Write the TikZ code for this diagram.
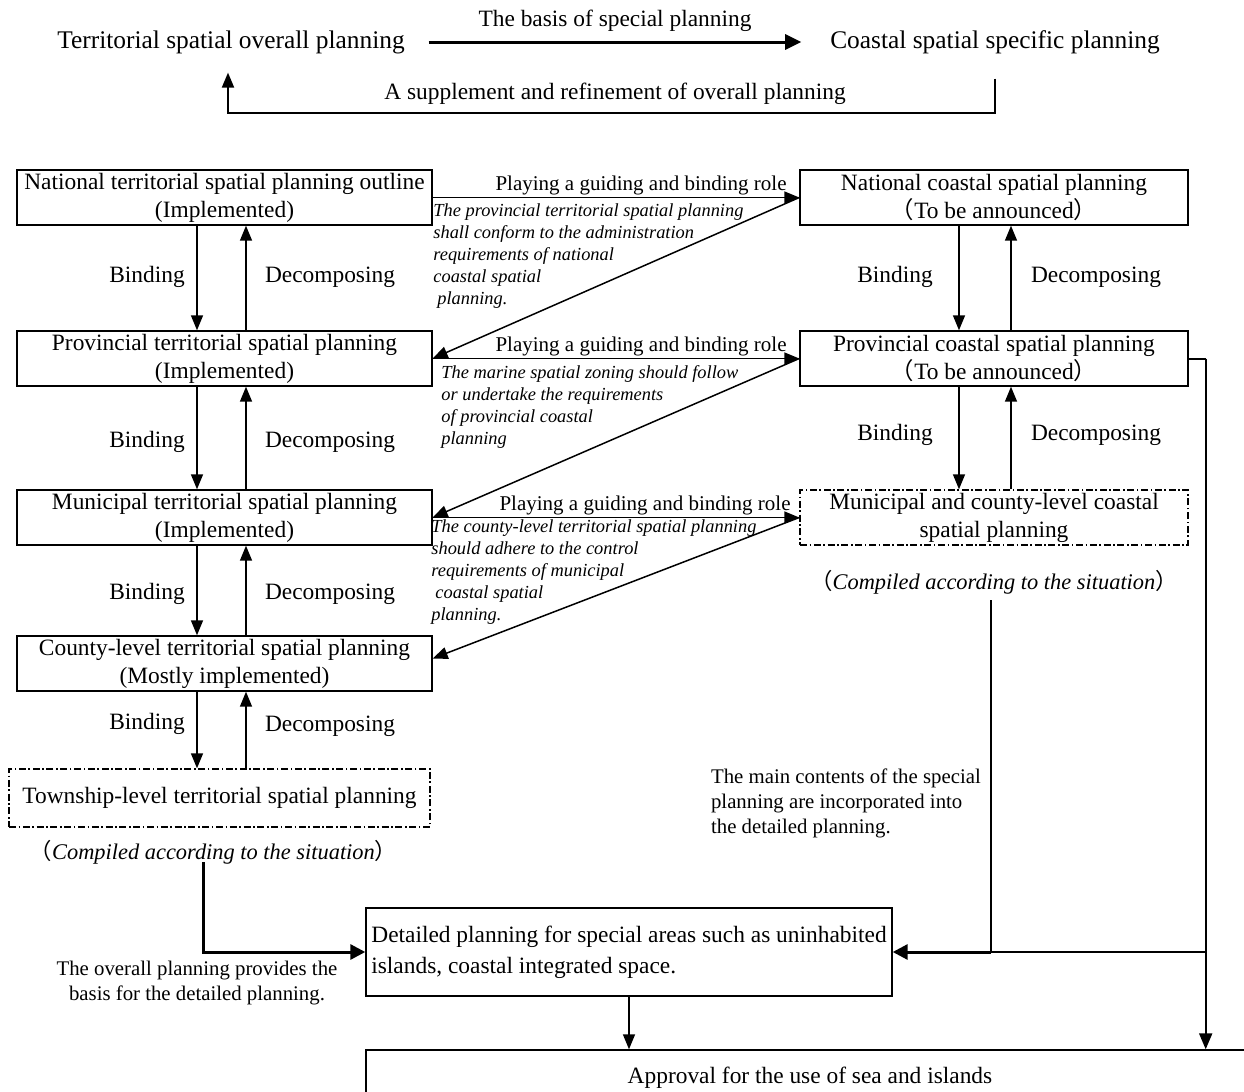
\documentclass[tikz,border=0pt]{standalone}
\usepackage{fontspec}
\setmainfont{Liberation Serif}
\newfontfamily\cjk{Noto Sans CJK SC}
\usetikzlibrary{positioning,arrows.meta,calc}
\newcommand{\lpar}{{\cjk （}}
\newcommand{\rpar}{{\cjk ）}}

\tikzset{
  plan/.style={draw,line width=0.7pt,minimum height=27.5pt,align=center,inner sep=1pt,
    font=\fontsize{11.7}{14}\selectfont},
  leftplan/.style={plan,minimum width=207.5pt},
  rightplan/.style={plan,minimum width=194pt},
  optplan/.style={dash pattern=on 3.5pt off 1.3pt on 0.8pt off 1.3pt},
  lbl/.style={font=\fontsize{11.7}{14}\selectfont},
  toplbl/.style={font=\fontsize{12.7}{15}\selectfont},
  guide/.style={font=\fontsize{10.5}{13}\selectfont,anchor=south east,xshift=-5pt,inner sep=1pt},
  note/.style={font=\fontsize{9.2}{11}\selectfont\itshape,align=left,anchor=north west,inner sep=0pt},
  sit/.style={font=\fontsize{11.2}{14}\selectfont\itshape},
  small/.style={font=\fontsize{10.4}{12.5}\selectfont},
  arr/.style={-{Triangle[length=7.5pt,width=6pt]},line width=0.75pt},
  bigarr/.style={-{Triangle[length=8pt,width=7.5pt]},line width=1.5pt},
  retarr/.style={-{Triangle[length=7.5pt,width=6pt]},line width=1pt},
  thickarr/.style={-{Triangle[length=7.5pt,width=7.5pt]},line width=1.5pt},
  rline/.style={line width=1pt},
}

\begin{document}
\begin{tikzpicture}[x=0.5pt,y=-0.5pt]
\useasboundingbox (0,0) rectangle (1244,1092);

% overall vs specific
\node[toplbl] (TO) at (231,42) {Territorial spatial overall planning};
\node[toplbl] (CS) at (995,42) {Coastal spatial specific planning};
\draw[bigarr] ([xshift=8.5pt]TO.east) -- node[above=1pt,lbl] (BS) {The basis of special planning} ([xshift=-11pt]CS.west);
\draw[retarr] ([yshift=-9pt]CS.south) -- ++(0,34) -| ([xshift=-1.5pt,yshift=-6pt]TO.south);
\node[lbl] (SR) at (615,94) {A supplement and refinement of overall planning};

% territorial column
\node[leftplan] (N1) at (224.5,197.5) {National territorial spatial planning outline\\(Implemented)};
\node[leftplan] (P1) at (224.5,358.5) {Provincial territorial spatial planning\\(Implemented)};
\node[leftplan] (M1) at (224.5,517.5) {Municipal territorial spatial planning\\(Implemented)};
\node[leftplan] (C1) at (224.5,663.5) {County-level territorial spatial planning\\(Mostly implemented)};
\node[leftplan,optplan,minimum width=210.5pt,minimum height=29pt] (T1) at (219.5,798) {Township-level territorial spatial planning};
\node[sit,below=3pt of T1,xshift=-3pt] (T1s) {\lpar Compiled according to the situation\rpar};

% coastal column
\node[rightplan] (N2) at (994,197.5) {National coastal spatial planning\\\lpar To be announced\rpar};
\node[rightplan] (P2) at (994,358.5) {Provincial coastal spatial planning\\\lpar To be announced\rpar};
\node[rightplan,optplan] (M2) at (994,517.5) {Municipal and county-level coastal\\spatial planning};
\node[sit,below=9pt of M2] (M2s) {\lpar Compiled according to the situation\rpar};

% binding / decomposing
\foreach \a/\b/\y in {N1/P1/277,P1/M1/442,M1/C1/594}{
  \draw[arr] ([xshift=-13.75pt]\a.south) -- ([xshift=-13.75pt]\b.north);
  \draw[arr] ([xshift=10.75pt]\b.north) -- ([xshift=10.75pt]\a.south);
  \node[lbl] (bind\a) at (147,\y) {Binding};
  \node[lbl] (dec\a) at (330,\y) {Decomposing};
}
\draw[arr] ([xshift=-13.75pt]C1.south) -- ([xshift=-13.75pt]C1.south |- T1.north);
\draw[arr] ([xshift=10.75pt]C1.south |- T1.north) -- ([xshift=10.75pt]C1.south);
\node[lbl] (bindC1) at (147,724) {Binding};
\node[lbl] (decC1) at (330,726) {Decomposing};

\foreach \a/\b/\y in {N2/P2/277,P2/M2/435}{
  \draw[arr] ([xshift=-17.5pt]\a.south) -- ([xshift=-17.5pt]\b.north);
  \draw[arr] ([xshift=8.5pt]\b.north) -- ([xshift=8.5pt]\a.south);
  \node[lbl] (bind\a) at (895,\y) {Binding};
  \node[lbl] (dec\a) at (1096,\y) {Decomposing};
}

% guiding role and feedback
\draw[arr] (N1.east) -- (N2.west) node[guide] (g1) {Playing a guiding and binding role};
\draw[arr] (P1.east) -- (P2.west) node[guide] (g2) {Playing a guiding and binding role};
\draw[arr] (M1.east) -- (M2.west) node[guide,xshift=2pt] (g3) {Playing a guiding and binding role};
\draw[arr] (N2.west) -- (P1.east);
\draw[arr] (P2.west) -- (M1.east);
\draw[arr] (M2.west) -- ([yshift=2.5pt]C1.east);
\node[note] (n1) at (433,203) {The provincial territorial spatial planning\\shall conform to the administration\\requirements of national\\coastal spatial\\\hspace*{2pt}planning.};
\node[note] (n2) at (441,365) {The marine spatial zoning should follow\\or undertake the requirements\\of provincial coastal\\planning};
\node[note] (n3) at (431,519) {The county-level territorial spatial planning\\should adhere to the control\\requirements of municipal\\\hspace*{2pt}coastal spatial\\planning.};

% detailed planning and approval
\node[plan,minimum width=263pt,minimum height=44pt,align=left,font=\fontsize{11.7}{15.5}\selectfont] (D) at (629,952) {Detailed planning for special areas such as uninhabited\\islands, coastal integrated space.};
\node[plan,minimum width=444pt,minimum height=28pt] (A) at (810,1078) {Approval for the use of sea and islands};
\draw[arr] (D.south) -- (D.south |- A.north);

\coordinate (tj) at (203,862);
\draw[thickarr] (tj) |- (D.west);
\node[small,align=center] (ob) at (197,983) {The overall planning provides the\\basis for the detailed planning.};

\coordinate (mj) at (991,600);
\draw[rline] (P2.east) -- ++(17,0) coordinate (rt);
\draw[-{Triangle[length=8pt,width=6.5pt]},rline] (rt) -- (rt |- A.north);
\draw[rline] (mj) -- (mj |- D.east);
\draw[rline] (rt |- D.east) -- (mj |- D.east);
\draw[thickarr] (mj |- D.east) -- (D.east);
\node[small,align=left,anchor=north west] (mc) at (704,762) {The main contents of the special\\planning are incorporated into\\the detailed planning.};
\end{tikzpicture}
\end{document}
